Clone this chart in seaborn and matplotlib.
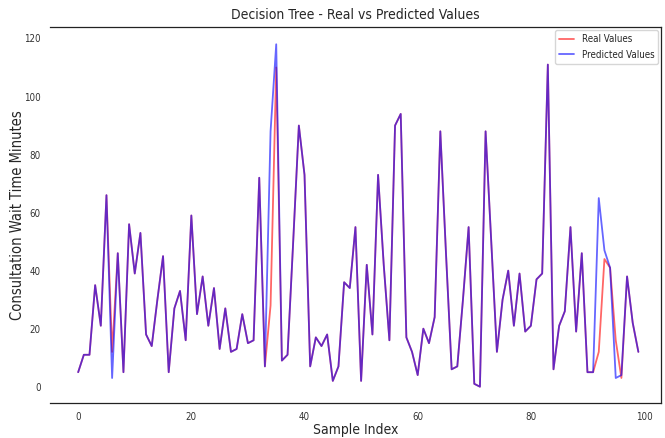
import numpy as np
import pandas as pd
import matplotlib
matplotlib.use("Agg")
import matplotlib.pyplot as plt
import seaborn as snb

# values
real_values = [5, 11, 11, 35, 21, 66, 12, 46, 5, 56,
               39, 53, 18, 14, 30, 45, 5, 27, 33, 16,
               59, 25, 38, 21, 34, 13, 27, 12, 13, 25,
               15, 16, 72, 7, 28, 110, 9, 11, 50, 90,
               73, 7, 17, 14, 18, 2, 7, 36, 34, 55,
               2, 42, 18, 73, 42, 16, 90, 94, 17, 12,
               4, 20, 15, 24, 88, 46, 6, 7, 30, 55,
               1, 0, 88, 50, 12, 30, 40, 21, 39, 19,
               21, 37, 39, 111, 6, 21, 26, 55, 19, 46,
               5, 5, 12, 44, 41, 16, 3, 38, 22, 12]
predicted_values = [5, 11, 11, 35, 21, 66, 3, 46, 5, 56,
                    39, 53, 18, 14, 30, 45, 5, 27, 33, 16,
                    59, 25, 38, 21, 34, 13, 27, 12, 13, 25,
                    15, 16, 72, 7, 88, 118, 9, 11, 50, 90,
                    73, 7, 17, 14, 18, 2, 7, 36, 34, 55,
                    2, 42, 18, 73, 42, 16, 90, 94, 17, 12,
                    4, 20, 15, 24, 88, 46, 6, 7, 30, 55,
                    1, 0, 88, 50, 12, 30, 40, 21, 39, 19,
                    21, 37, 39, 111, 6, 21, 26, 55, 19, 46,
                    5, 5, 65, 47, 41, 3, 4, 38, 22, 12]
sample_index = list(range(len(real_values)))

df = pd.DataFrame({"idx": sample_index, "real": real_values, "pred": predicted_values})

snb.set_style("white")
plt.rcParams["font.family"] = ["DejaVu Sans"]
plt.rcParams["font.stretch"] = "condensed"

fgr = plt.figure(figsize=(6.65, 4.38), dpi=100)
ax = fgr.add_axes([0.075, 0.080, 0.919, 0.858])

snb.lineplot(data=df, x="idx", y="real", color="red", alpha=0.6, linewidth=1.3,
             label="Real Values", ax=ax)
snb.lineplot(data=df, x="idx", y="pred", color="blue", alpha=0.6, linewidth=1.3,
             label="Predicted Values", ax=ax)

ax.set_xlim(-5, 103)
ax.set_ylim(-5.6, 123.9)
ax.set_xticks([0, 20, 40, 60, 80, 100])
ax.set_yticks([0, 20, 40, 60, 80, 100, 120])
ax.tick_params(axis="both", labelsize=7, labelcolor="#333333", color="#555555",
               length=3, width=0.8, direction="out")
ax.spines["left"].set_visible(False)
for s in ["top", "bottom", "right"]:
    ax.spines[s].set_color("#222222")
    ax.spines[s].set_linewidth(0.9)

plt.title("Decision Tree - Real vs Predicted Values", fontsize=10)
plt.xlabel("Sample Index", fontsize=10)
plt.ylabel("Consultation Wait Time Minutes", fontsize=10.5)
ax.yaxis.set_label_coords(-0.040, 0.5)
ax.xaxis.set_label_coords(0.5, -0.052)
ax.legend(loc="upper right", fontsize=7, frameon=True, borderaxespad=0.3,
          handlelength=1.5, labelspacing=0.6)

fgr.savefig("out.png", dpi=100)
